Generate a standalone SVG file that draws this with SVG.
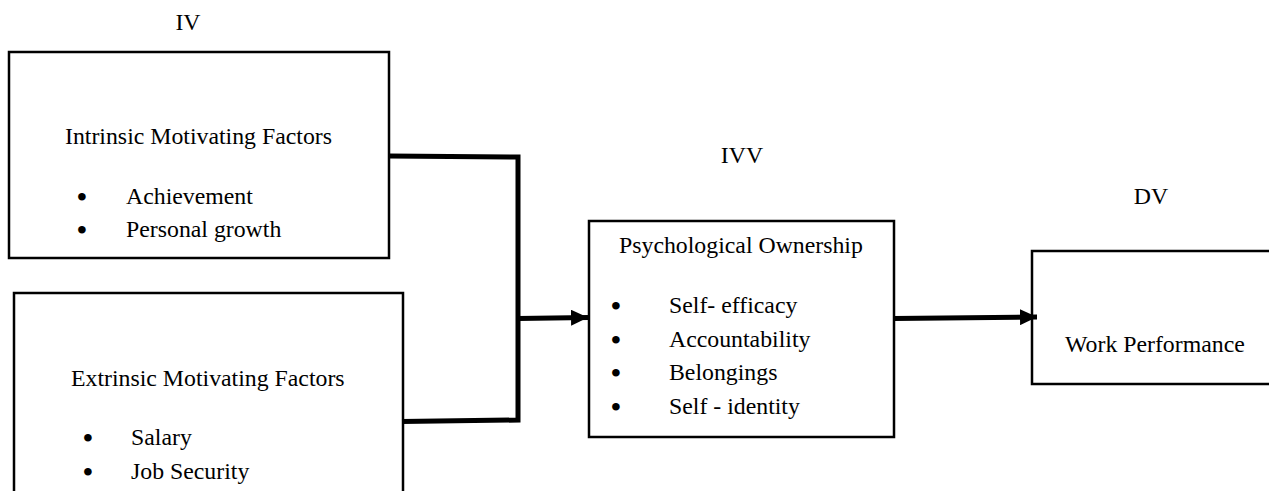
<svg xmlns="http://www.w3.org/2000/svg" width="1269" height="491" viewBox="0 0 1269 491">
<style>
text{font-family:"Liberation Serif","Times New Roman",serif;font-size:23.8px;fill:#000}
.box{fill:#fff;stroke:#000;stroke-width:2.5}
.con{fill:none;stroke:#000;stroke-width:5}
.b{text-anchor:middle}
.bl{text-anchor:middle;font-size:28px;font-weight:bold}
</style>
<defs>
<marker id="ah" markerUnits="userSpaceOnUse" markerWidth="18" markerHeight="16" refX="17" refY="8" orient="auto">
<path d="M0,0 L17,8 L0,16 Z" fill="#000"/>
</marker>
</defs>
<rect width="1269" height="491" fill="#fff"/>
<text x="188" y="30" class="b">IV</text>
<text x="742" y="163" class="b">IVV</text>
<text x="1151" y="204" class="b">DV</text>
<g id="intrinsic">
<rect class="box" x="9" y="52" width="380" height="206"/>
<text x="65" y="144">Intrinsic Motivating Factors</text>
<text x="82" y="206" class="bl">•</text><text x="126" y="204">Achievement</text>
<text x="82" y="239" class="bl">•</text><text x="126" y="237">Personal growth</text>
</g>
<g id="extrinsic">
<rect class="box" x="14" y="293" width="389" height="210"/>
<text x="71" y="386">Extrinsic Motivating Factors</text>
<text x="88" y="447" class="bl">•</text><text x="131" y="445">Salary</text>
<text x="88" y="481" class="bl">•</text><text x="131" y="479">Job Security</text>
</g>
<g id="ownership">
<rect class="box" x="589" y="221" width="305" height="216"/>
<text x="619" y="253">Psychological Ownership</text>
<text x="616" y="315" class="bl">•</text><text x="669" y="313">Self- efficacy</text>
<text x="616" y="349" class="bl">•</text><text x="669" y="347">Accountability</text>
<text x="616" y="382" class="bl">•</text><text x="669" y="380">Belongings</text>
<text x="616" y="416" class="bl">•</text><text x="669" y="414">Self - identity</text>
</g>
<g id="performance">
<rect class="box" x="1032" y="251" width="240" height="133"/>
<text x="1065" y="352">Work Performance</text>
</g>
<g id="connectors">
<path class="con" d="M389,156 L518,157 L518,420 L402,421.5"/>
<path class="con" d="M518,318.5 L588,317.5" marker-end="url(#ah)"/>
<path class="con" d="M894,318.5 L1037,317" marker-end="url(#ah)"/>
</g>
</svg>
